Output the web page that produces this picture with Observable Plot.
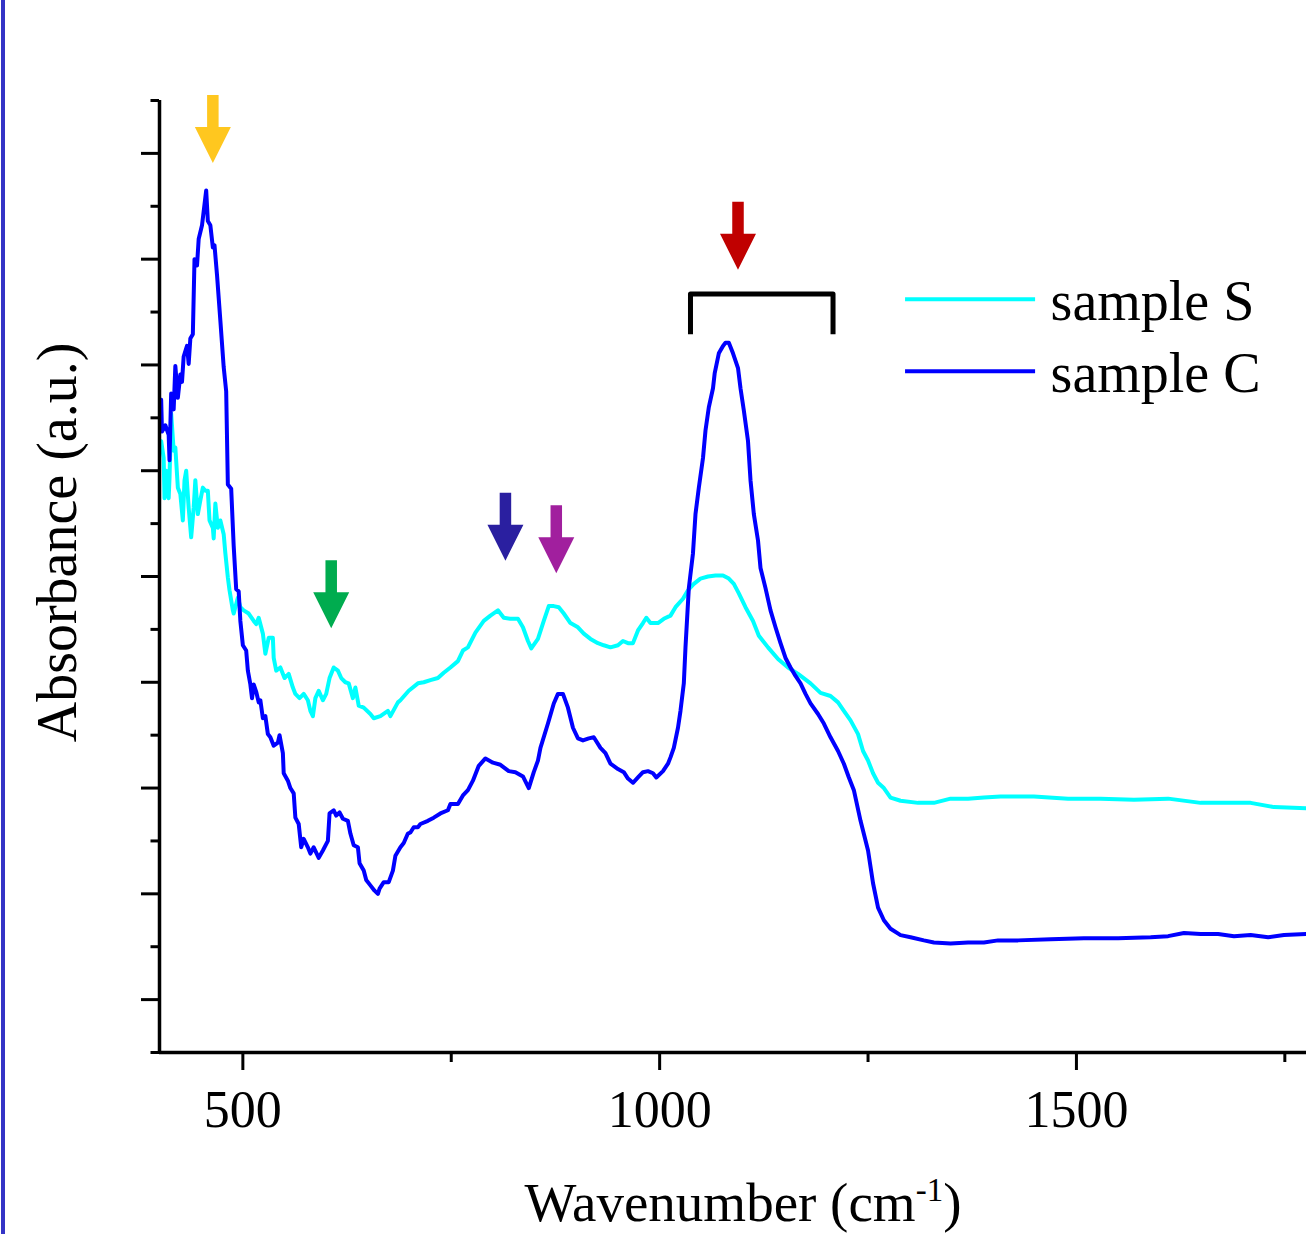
<!DOCTYPE html>
<html>
<head>
<meta charset="utf-8">
<script src="https://cdn.jsdelivr.net/npm/d3@7"></script>
<script src="https://cdn.jsdelivr.net/npm/@observablehq/plot@0.6"></script>
<style>
  html, body { margin: 0; padding: 0; background: #fff; }
  #wrap { position: relative; width: 1306px; height: 1234px; overflow: hidden; background: #fff; }
  #wrap svg { position: absolute; left: 0; top: 0; }
  #edge { position: absolute; left: 1px; top: 0; width: 4px; height: 1234px; background: #3434c6; z-index: 2; }
</style>
</head>
<body>
<div id="wrap"><div id="edge"></div></div>
<script>
// ---------- data ----------
const seriesNames = ["sample S", "sample C"];
const seriesColors = ["#00ffff", "#0000ff"];

// sample S (cyan)
const wavenumberS = [
  401,402,405,406,408,411,412,414,417,419,
  422,425,428,430,432,435,438,441,443,446,
  449,452,455,458,460,464,465,467,470,473,
  477,479,482,484,488,489,494,497,501,507,
  513,516,519,524,527,531,536,537,540,545,
  550,555,560,563,568,573,578,581,584,587,
  591,596,600,604,609,614,618,623,627,632,
  635,639,645,653,657,665,674,677,686,689,
  699,710,717,725,734,741,749,758,764,770,
  779,789,797,806,813,821,830,836,842,846,
  854,861,867,873,879,885,893,902,909,917,
  926,933,941,950,956,962,968,974,980,984,
  989,998,1005,1013,1019,1028,1034,1041,1049,1058,
  1067,1076,1083,1089,1095,1103,1112,1119,1130,1142,
  1154,1166,1181,1193,1205,1214,1221,1229,1238,1244,
  1250,1256,1262,1269,1277,1289,1310,1329,1349,1370,
  1389,1409,1449,1490,1529,1569,1610,1649,1689,1709,
  1737,1776
];
const absorbanceS = [
  .574,.578,.562,.524,.550,.524,.543,.604,.569,.572,
  .534,.528,.503,.541,.550,.515,.487,.515,.541,.509,
  .522,.534,.531,.531,.503,.496,.486,.519,.496,.503,
  .490,.472,.449,.437,.418,.415,.430,.421,.418,.415,
  .408,.405,.411,.396,.377,.392,.392,.373,.361,.364,
  .354,.358,.345,.339,.335,.339,.333,.323,.318,.335,
  .342,.333,.339,.354,.364,.361,.354,.350,.349,.335,
  .345,.328,.326,.320,.316,.318,.323,.318,.331,.333,
  .342,.349,.350,.352,.354,.359,.364,.370,.380,.383,
  .397,.408,.413,.418,.411,.410,.410,.402,.389,.382,
  .391,.408,.422,.422,.421,.415,.406,.402,.396,.391,
  .387,.385,.383,.385,.389,.387,.387,.399,.406,.411,
  .406,.406,.410,.413,.421,.429,.437,.443,.448,.450,
  .451,.451,.448,.443,.434,.421,.408,.394,.383,.372,
  .364,.358,.349,.340,.337,.331,.323,.314,.301,.285,
  .276,.264,.255,.250,.241,.238,.236,.236,.240,.240,
  .241,.242,.242,.240,.240,.239,.240,.236,.236,.236,
  .232,.231
];

// sample C (blue)
const wavenumberC = [
  401,402,403,407,411,412,414,417,419,422,
  425,427,429,433,435,437,440,442,445,447,
  451,456,458,461,464,466,469,473,477,480,
  482,486,489,492,495,497,500,504,506,509,
  511,513,516,519,521,524,527,530,533,537,
  542,544,548,549,554,557,561,563,567,570,
  573,578,581,585,591,596,602,604,609,612,
  616,620,626,629,633,638,640,645,648,653,
  658,662,664,669,675,680,683,689,693,698,
  701,705,710,713,722,729,737,746,749,758,
  764,770,776,783,791,800,809,819,827,836,
  843,849,854,857,866,873,878,884,890,896,
  902,908,915,921,929,935,941,950,957,962,
  968,974,980,986,992,996,1004,1010,1013,1017,
  1022,1025,1029,1031,1035,1040,1043,1047,1052,1055,
  1059,1064,1066,1071,1076,1079,1083,1088,1094,1097,
  1101,1106,1109,1113,1118,1121,1127,1133,1139,1145,
  1151,1157,1163,1169,1175,1181,1190,1197,1205,1214,
  1221,1227,1233,1241,1250,1256,1262,1269,1277,1289,
  1301,1317,1329,1349,1370,1389,1406,1430,1469,1509,
  1550,1589,1610,1629,1649,1670,1689,1709,1730,1749,
  1776
];
const absorbanceC = [
  .611,.617,.587,.593,.584,.560,.623,.608,.649,.619,
  .641,.634,.658,.668,.651,.675,.679,.750,.744,.769,
  .782,.815,.786,.782,.761,.763,.735,.692,.648,.625,
  .537,.533,.479,.438,.436,.408,.385,.380,.361,.348,
  .335,.348,.341,.331,.333,.316,.318,.301,.298,.290,
  .293,.300,.283,.264,.257,.250,.245,.222,.216,.194,
  .202,.194,.188,.194,.184,.191,.200,.226,.229,.224,
  .227,.221,.219,.207,.196,.194,.179,.172,.163,.158,
  .153,.150,.155,.161,.161,.172,.186,.194,.198,.207,
  .208,.213,.213,.216,.219,.222,.226,.229,.235,.235,
  .243,.248,.257,.271,.278,.274,.272,.266,.265,.261,
  .250,.265,.276,.288,.311,.330,.339,.339,.326,.307,
  .297,.295,.297,.298,.288,.283,.273,.268,.265,.259,
  .255,.260,.265,.266,.264,.260,.266,.273,.279,.288,
  .307,.323,.349,.383,.439,.472,.509,.534,.562,.588,
  .610,.628,.642,.661,.668,.671,.671,.661,.647,.628,
  .607,.578,.541,.509,.484,.458,.439,.418,.402,.387,
  .373,.364,.356,.349,.339,.330,.320,.311,.298,.285,
  .273,.260,.248,.219,.191,.160,.137,.125,.117,.111,
  .109,.106,.104,.103,.104,.104,.106,.106,.107,.108,
  .108,.109,.110,.113,.112,.112,.110,.111,.109,.111,
  .112
];

// marked bands (arrows): wavenumber and absorbance at the arrow tip
const bandWavenumbers = [464, 606, 815, 876, 1094];
const bandTipHeights = [0.841, 0.401, 0.465, 0.453, 0.740];
const bandColors = ["#ffc71f", "#00ac4f", "#2a1fa0", "#a11f9e", "#c00000"];

// bracket over the 1037–1208 cm-1 region
const bracketWavenumbers = [1037, 1037, 1208, 1208];
const bracketHeights = [0.679, 0.717, 0.717, 0.679];

// axis ticks
const xMajorTicks = [500, 1000, 1500];
const xMinorTicks = [750, 1250, 1750];
const yMajorTicks = [0.05, 0.15, 0.25, 0.35, 0.45, 0.55, 0.65, 0.75, 0.85];
const yMinorTicks = [0, 0.1, 0.2, 0.3, 0.4, 0.5, 0.6, 0.7, 0.8, 0.9];

// ---------- build ----------
const seriesS = wavenumberS.map((w, i) => ({w, a: absorbanceS[i]}));
const seriesC = wavenumberC.map((w, i) => ({w, a: absorbanceC[i]}));
const bands = bandWavenumbers.map((w, i) => ({w, a: bandTipHeights[i]}));
const bracket = bracketWavenumbers.map((w, i) => ({w, a: bracketHeights[i]}));

// legend placement (in data space, upper right of the frame)
const legend = {x1: 1295, x2: 1451, textX: 1469, rows: [0.712, 0.644]};

const blockArrow = {
  draw(context, l) {
    const sw = 5.75, hw = 18, hh = 36;
    context.moveTo(-sw, 0);
    context.lineTo(-sw, -(l - hh));
    context.lineTo(-hw, -(l - hh));
    context.lineTo(0, -l);
    context.lineTo(hw, -(l - hh));
    context.lineTo(sw, -(l - hh));
    context.lineTo(sw, 0);
    context.closePath();
  }
};

const serif = "'Liberation Serif', 'Times New Roman', Times, serif";

const svg = Plot.plot({
  width: 1306,
  height: 1234,
  marginTop: 100,
  marginRight: 0,
  marginBottom: 182,
  marginLeft: 159,
  style: {fontFamily: serif, fontSize: "52px", color: "#000", background: "#fff", overflow: "visible"},
  x: {domain: [400, 1776]},
  y: {domain: [0, 0.9]},
  marks: [
    Plot.line(seriesS, {x: "w", y: "a", stroke: seriesColors[0], strokeWidth: 4}),
    Plot.line(seriesC, {x: "w", y: "a", stroke: seriesColors[1], strokeWidth: 4}),
    Plot.axisY(yMinorTicks, {tickSize: 8.5, strokeWidth: 3, tickFormat: () => "", label: null}),
    Plot.axisY(yMajorTicks, {tickSize: 18, strokeWidth: 3, tickFormat: () => "", label: null}),
    Plot.axisX(xMinorTicks, {tickSize: 10, strokeWidth: 3, tickFormat: () => "", label: null}),
    Plot.axisX(xMajorTicks, {tickSize: 18, tickPadding: 20, strokeWidth: 3, tickFormat: d => String(d), label: null}),
    Plot.ruleX([400], {strokeWidth: 3.5, stroke: "#000"}),
    Plot.ruleY([0], {strokeWidth: 3.5, stroke: "#000"}),
    ...bands.map((b, i) => Plot.vector([b], {
      x: "w", y: "a", length: 68, rotate: 180, anchor: "end",
      shape: blockArrow, fill: bandColors[i], stroke: "none"
    })),
    Plot.line(bracket, {x: "w", y: "a", stroke: "#000", strokeWidth: 5, strokeLinejoin: "round", strokeLinecap: "butt"}),
    ...seriesNames.map((name, i) => Plot.ruleY([legend.rows[i]], {
      x1: legend.x1, x2: legend.x2, stroke: seriesColors[i], strokeWidth: 4
    })),
    ...seriesNames.map((name, i) => Plot.text([name], {
      x: legend.textX, y: legend.rows[i], text: d => d, textAnchor: "start",
      fontSize: 56, dy: 3, fill: "#000"
    })),
    Plot.text(["Absorbance (a.u.)"], {
      frameAnchor: "left", text: d => d, rotate: -90, dx: -101, dy: -34,
      textAnchor: "middle", lineAnchor: "middle",
      fontSize: 56, fill: "#000"
    }),
    Plot.text(["Wavenumber (cm-1)"], {
      frameAnchor: "bottom", text: d => d, dx: 10, dy: 168,
      fontSize: 55, fill: "#000", className: "xlab"
    })
  ]
});

// superscript in the x-axis label
const xl = svg.querySelector(".xlab text");
if (xl) {
  xl.textContent = "";
  const ns = "http://www.w3.org/2000/svg";
  const t1 = document.createElementNS(ns, "tspan"); t1.textContent = "Wavenumber (cm";
  const t2 = document.createElementNS(ns, "tspan"); t2.textContent = "-1";
  t2.setAttribute("font-size", "33"); t2.setAttribute("dy", "-20");
  const t3 = document.createElementNS(ns, "tspan"); t3.textContent = ")";
  t3.setAttribute("font-size", "55"); t3.setAttribute("dy", "20");
  xl.append(t1, t2, t3);
}

document.getElementById("wrap").appendChild(svg);
</script>
</body>
</html>
